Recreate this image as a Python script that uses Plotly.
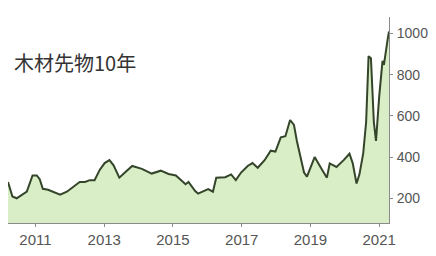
import plotly.graph_objects as go

dates = [
    "2010-03-15", "2010-05-01", "2010-06-15", "2010-08-15", "2010-10-01", "2010-12-01",
    "2011-01-15", "2011-02-15", "2011-03-20", "2011-05-15", "2011-07-10", "2011-09-20",
    "2011-12-01", "2012-02-01", "2012-04-15", "2012-06-10", "2012-08-01", "2012-09-20",
    "2012-11-15", "2013-01-05", "2013-02-25", "2013-04-10", "2013-06-10", "2013-08-20",
    "2013-10-25", "2014-02-05", "2014-05-20", "2014-08-25", "2014-11-15", "2015-02-01",
    "2015-05-15", "2015-06-15", "2015-08-25", "2015-09-25", "2016-01-10", "2016-03-01",
    "2016-04-05", "2016-07-10", "2016-09-10", "2016-10-30", "2016-12-25", "2017-03-05",
    "2017-04-25", "2017-06-20", "2017-09-01", "2017-11-05", "2017-12-25", "2018-02-20",
    "2018-04-10", "2018-05-30", "2018-07-10", "2018-08-10", "2018-10-25", "2018-11-25",
    "2019-02-15", "2019-04-30", "2019-06-25", "2019-07-25", "2019-10-05", "2019-12-20",
    "2020-02-20", "2020-03-25", "2020-05-05", "2020-06-05", "2020-07-15", "2020-08-15",
    "2020-09-10", "2020-10-05", "2020-11-05", "2020-11-28", "2021-01-01", "2021-02-05",
    "2021-02-20", "2021-04-01", "2021-04-15",
]
prices = [
    279, 209, 200, 218, 232, 311,
    311, 293, 246, 241, 232, 218,
    232, 255, 279, 279, 288, 288,
    339, 371, 385, 360, 300, 330,
    357, 343, 320, 334, 318, 311,
    268, 279, 235, 223, 245, 232,
    300, 302, 316, 288, 325, 357,
    371, 348, 385, 431, 427, 496,
    501, 580, 556, 478, 325, 305,
    400, 342, 300, 369, 352, 385,
    416, 371, 272, 316, 418, 570,
    890, 880, 570, 478, 695, 867,
    848, 973, 1010,
]

title_text = "木材先物10年"
x_tick_vals = ["2011-01-01", "2013-01-01", "2015-01-01", "2017-01-01", "2019-01-01", "2021-01-01"]
x_tick_text = ["2011", "2013", "2015", "2017", "2019", "2021"]
y_tick_vals = [200, 400, 600, 800, 1000]
y_tick_text = ["200", "400", "600", "800", "1000"]

fig = go.Figure()
fig.add_trace(go.Scatter(
    x=dates, y=prices, mode="lines",
    line=dict(color="#34452a", width=2),
    fill="tozeroy", fillcolor="rgb(217,238,199)",
    hoverinfo="skip",
))

fig.update_layout(
    width=436, height=256,
    margin=dict(l=8, r=43, t=17, b=23),
    paper_bgcolor="white", plot_bgcolor="white",
    showlegend=False,
    font=dict(family="Liberation Sans, Arial, sans-serif", color="#555555", size=14),
    annotations=[dict(
        text=title_text, xref="paper", yref="paper", x=0.01, y=0.78,
        xanchor="left", yanchor="middle", showarrow=False,
        font=dict(family="Noto Sans CJK JP", size=20, color="#333333"),
    )],
)
fig.update_xaxes(
    range=["2010-03-15", "2021-04-15"],
    tickvals=x_tick_vals, ticktext=x_tick_text,
    showgrid=False, zeroline=False,
    showline=True, linecolor="#8a8a8a", linewidth=1,
    ticks="outside", ticklen=3, tickcolor="#8a8a8a",
    tickfont=dict(size=15, color="#555555"),
)
fig.update_yaxes(
    side="right", range=[80, 1080],
    tickvals=y_tick_vals, ticktext=y_tick_text,
    showgrid=False, zeroline=False,
    showline=True, linecolor="#8a8a8a", linewidth=1,
    ticks="outside", ticklen=3, tickcolor="#8a8a8a",
    ticklabelstandoff=1,
    tickfont=dict(size=14, color="#555555"),
)

fig.write_html(
    "out.html",
    config={"displayModeBar": False, "staticPlot": True},
    post_script="document.body.style.margin='0';document.body.style.overflow='hidden';",
)
